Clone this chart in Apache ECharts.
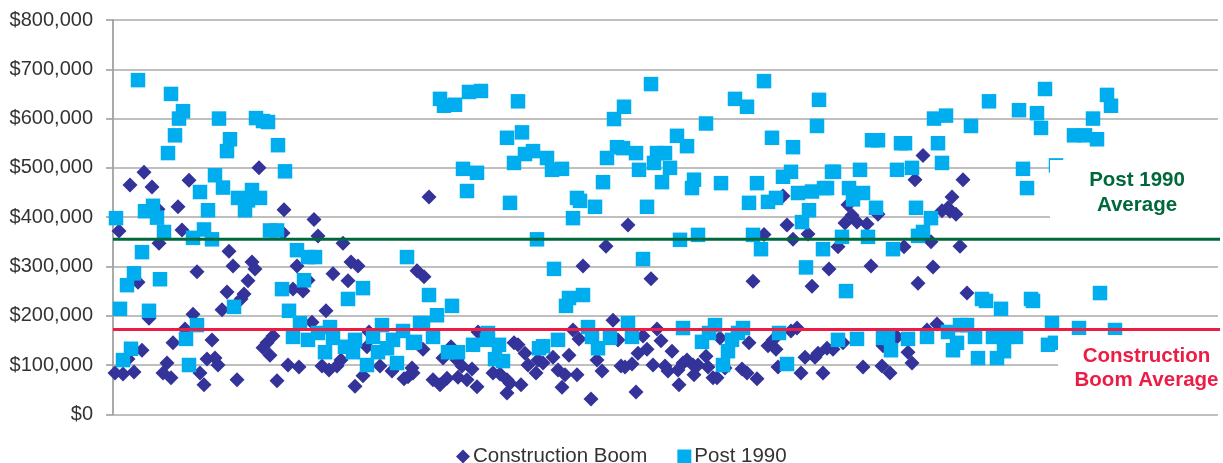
<!DOCTYPE html>
<html>
<head>
<meta charset="utf-8">
<style>
html, body { margin: 0; padding: 0; background: #fff; }
#chart { width: 1223px; height: 463px; }
</style>
<script src="https://cdn.jsdelivr.net/npm/echarts@6/dist/echarts.min.js"></script>
</head>
<body>
<div id="chart"></div>
<script>
// sale order on the x axis, price in thousands of dollars
var boomPoints = [
    [17,465],[31,491],[39,461],[76,475],[146,500],[65,421],[171,415],[201,395],[45,416],
    [6,372],[69,374],[46,347],[170,368],[205,362],[230,347],[116,331],[120,301],[139,309],[142,295],
    [84,289],[25,268],[135,271],[184,301],[220,285],[238,309],[245,301],[235,271],[180,254],[190,250],
    [195,272],[114,248],[131,244],[128,234],[109,212],[36,195],[213,210],[80,203],[199,187],[72,173],
    [99,151],[60,145],[29,130],[160,159],[154,145],[150,135],[157,120],[256,167],[254,137],[54,104],
    [94,112],[102,114],[105,100],[175,100],[186,96],[209,98],[216,90],[224,98],[228,110],[2,84],
    [10,82],[21,86],[50,84],[58,74],[87,84],[91,60],[124,70],[164,68],[242,57],[250,78],
    [267,98],[279,88],[291,72],[299,94],[295,76],[15,112],
    [304,291],[311,279],[300,84],[310,132],[320,70],[327,60],[334,73],[330,114],[338,137],[344,110],
    [349,98],[359,92],[345,75],[354,70],[364,56],[365,167],[380,84],[387,82],[394,70],[397,63],
    [394,43],[408,60],[401,145],[405,141],[412,124],[415,100],[423,84],[425,110],[430,104],[440,116],
    [445,90],[452,80],[464,80],[449,55],[456,120],[460,171],[466,153],[470,301],[493,341],[478,31],
    [484,110],[489,88],[500,191],[505,151],[508,98],[512,96],[519,102],[525,124],[534,132],[530,159],
    [523,45],[538,275],[540,100],[544,173],[548,149],[552,98],[555,88],[559,128],[565,90],[570,104],
    [574,110],[580,100],[581,80],[566,60],[585,100],[593,118],[595,96],[600,74],[604,74],[607,155],
    [612,94],[629,92],[634,84],[644,72],[636,145],[640,270],[655,139],[660,151],[663,132],[665,96],
    [678,169],[684,175],[699,260],[692,116],[688,84],[702,116],[705,124],[714,134],[710,84],[716,295],
    [316,441],[515,384],[670,443],[674,384],[680,355],[651,365],[695,366],
    [810,525],[802,476],[850,476],[839,441],[829,413],[835,419],[843,406],[837,412],[765,406],
    [735,425],[739,404],[732,388],[744,390],[754,386],[725,340],[791,340],[818,350],[847,341],
    [758,301],[820,299],[805,266],[854,246],[824,183],[814,171],[784,157],[795,126],[799,104],
    [769,98],[777,84],[750,96],[720,132],[730,145],[770,139]
];
var post1990Points = [
    [3,398],[25,678],[58,650],[70,615],[66,600],[62,566],[55,530],[106,600],[143,601],[150,595],
    [155,593],[117,558],[114,534],[165,546],[172,493],[102,485],[110,460],[87,451],[139,455],[125,439],
    [147,439],[135,434],[132,414],[95,414],[40,423],[32,412],[44,399],[51,370],[91,375],[157,373],
    [164,373],[80,358],[99,355],[29,329],[21,286],[14,262],[47,274],[7,214],[36,210],[121,218],
    [169,254],[191,272],[184,333],[202,319],[195,319],[294,319],[235,234],[250,256],[176,210],[187,185],
    [84,181],[73,153],[18,133],[10,110],[76,100],[180,157],[195,151],[205,165],[217,177],[212,126],
    [232,137],[240,126],[220,155],[242,151],[254,100],[284,104],[269,181],[265,126],[274,134],[260,157],
    [290,169],[280,151],[300,145],[307,185],
    [302,147],[310,185],[324,201],[339,220],[316,242],[320,157],[335,126],[345,126],[360,141],[375,165],
    [374,151],[386,141],[382,112],[390,108],[426,134],[430,138],[445,151],[441,295],[453,220],[456,236],
    [470,242],[475,177],[479,157],[485,134],[497,155],[515,185],[519,157],[530,315],[570,175],[589,147],
    [596,165],[602,181],[610,100],[615,128],[619,151],[625,165],[630,175],[666,165],[674,102],[693,298],
    [648,335],[710,335],
    [327,640],[331,626],[342,628],[356,654],[368,656],[405,635],[350,498],[364,490],[354,453],[397,429],
    [394,561],[409,572],[401,510],[412,528],[420,534],[434,520],[439,496],[449,498],[424,355],[464,439],
    [467,433],[482,421],[460,398],[490,471],[494,520],[501,599],[511,624],[504,542],[510,540],[523,530],
    [526,496],[538,670],[534,421],[541,510],[544,530],[552,530],[549,471],[557,500],[564,565],[574,544],
    [593,590],[581,476],[579,459],[608,469],[585,364],[567,354],[622,640],[634,624],[651,676],[659,561],
    [680,542],[644,469],[636,429],[655,431],[663,439],[640,364],[670,482],[678,492],[685,449],[699,452],
    [711,459],[696,414],[689,390],[706,638],[704,585],[719,492],[721,492],[747,496],[714,459],[736,459],
    [740,436],[750,449],[763,419],[759,556],[765,556],[788,550],[792,550],[784,496],[799,500],[803,419],
    [818,398],[810,370],[805,362],[821,600],[833,606],[825,550],[829,510],[858,585],[876,635],[906,617],
    [924,611],[928,581],[932,660],[910,498],[914,459],[961,566],[972,566],[980,600],[984,558],[994,648],
    [998,626],[943,505],[729,360],[755,360],[780,335],
    [733,250],[725,151],[744,153],[770,155],[775,155],[778,130],[795,153],[814,157],[835,167],[847,181],
    [854,181],[844,145],[840,130],[862,157],[865,114],[869,234],[873,230],[888,214],[880,157],[903,157],
    [894,157],[891,128],[884,114],[918,234],[920,230],[939,185],[935,141],[942,145],[966,175],[987,246],
    [1002,171]
];
var boomAverage = 172;
var post1990Average = 355;
var averageLineX = [0, 1110];
var yTicks = [0, 100, 200, 300, 400, 500, 600, 700, 800];
var boomName = 'Construction Boom';
var post1990Name = 'Post 1990';

function toDollars(points) {
    return points.map(function (p) { return [p[0], p[1] * 1000]; });
}

var myChart = echarts.init(document.getElementById('chart'));

var labelFont = '"Liberation Sans", Arial, sans-serif';

var option = {
    animation: false,
    textStyle: { fontFamily: labelFont },
    grid: { left: 113, top: 20, right: 5, height: 394.3 },
    legend: {
        data: [
            { name: boomName, icon: 'diamond', itemStyle: { color: '#333399' } },
            { name: post1990Name, icon: 'rect', itemStyle: { color: '#00AEEF' } }
        ],
        left: 456,
        top: 446,
        padding: 0,
        itemWidth: 14,
        itemHeight: 14,
        itemGap: 30,
        textStyle: { fontSize: 20.5, color: '#333', fontFamily: labelFont, padding: [0, 0, 0, -2] }
    },
    xAxis: { type: 'value', min: 0, max: 1105, show: false },
    yAxis: {
        type: 'value',
        min: 0,
        max: yTicks[yTicks.length - 1] * 1000,
        interval: 100000,
        axisLine: { show: true, lineStyle: { color: '#aaa', width: 2 } },
        axisTick: { show: true, length: 7, lineStyle: { color: '#999', width: 1.5 } },
        axisLabel: {
            fontSize: 20,
            color: '#333',
            fontFamily: labelFont,
            margin: 20,
            formatter: function (v) { return '$' + v.toLocaleString('en-US'); }
        },
        splitLine: { lineStyle: { color: '#aaa', width: 1.5 } }
    },
    series: [
        {
            name: boomName,
            type: 'scatter',
            symbol: 'diamond',
            symbolSize: 15,
            itemStyle: { color: '#333399', opacity: 1 },
            data: toDollars(boomPoints)
        },
        {
            name: post1990Name,
            type: 'scatter',
            symbol: 'rect',
            symbolSize: 14.5,
            itemStyle: { color: '#00AEEF', opacity: 1 },
            data: toDollars(post1990Points)
        },
        {
            name: 'Post 1990 Average',
            type: 'line',
            symbol: 'none',
            clip: false,
            z: 5,
            lineStyle: { color: '#00693C', width: 3 },
            data: averageLineX.map(function (x) { return [x, post1990Average * 1000]; })
        },
        {
            name: 'Construction Boom Average',
            type: 'line',
            symbol: 'none',
            clip: false,
            z: 5,
            lineStyle: { color: '#ED1C45', width: 3 },
            data: averageLineX.map(function (x) { return [x, boomAverage * 1000]; })
        }
    ],
    graphic: [
        // white label boxes that sit over the points and gridlines, as in the original
        { type: 'rect', z: 10, shape: { x: 1050, y: 160, width: 173, height: 66 }, style: { fill: '#fff' } },
        { type: 'rect', z: 10, shape: { x: 1058, y: 335, width: 165, height: 65 }, style: { fill: '#fff' } },
        {
            type: 'text', z: 11,
            style: {
                x: 1137, y: 168, text: 'Post 1990\nAverage', fill: '#00693C', align: 'center', lineHeight: 25,
                font: 'bold 20.5px "Liberation Sans", Arial, sans-serif'
            }
        },
        {
            type: 'text', z: 11,
            style: {
                x: 1146.5, y: 344, text: 'Construction\nBoom Average', fill: '#ED1C45', align: 'center', lineHeight: 24.5,
                font: 'bold 20.5px "Liberation Sans", Arial, sans-serif'
            }
        }
    ]
};

myChart.setOption(option);
</script>
</body>
</html>
